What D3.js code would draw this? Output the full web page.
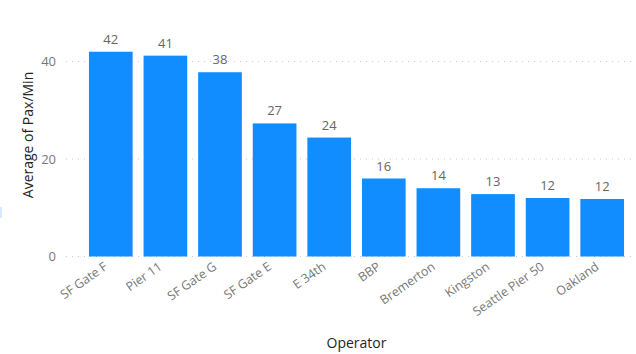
<!DOCTYPE html>
<html><head><meta charset="utf-8">
<script src="https://cdn.jsdelivr.net/npm/d3@7"></script>
<style>
body{margin:0;background:#fff;}
svg{display:block;font-family:"Open Sans","Noto Sans",sans-serif;}
</style></head>
<body><svg id="c" width="636" height="354"></svg>
<script>
const categories = ["SF Gate F","Pier 11","SF Gate G","SF Gate E","E 34th","BBP","Bremerton","Kingston","Seattle Pier 50","Oakland"];
const values = [42.0, 41.2, 37.8, 27.3, 24.4, 16.0, 14.0, 12.8, 12.0, 11.8];
const yTicks = [0, 20, 40];
const yTitle = "Average of Pax/Min";
const xTitle = "Operator";

const svg = d3.select("#c");
const x = d3.scaleBand().domain(categories).range([83.5, 629.5]).paddingInner(0.2).paddingOuter(0.1);
const y = d3.scaleLinear().domain([0, 40]).range([256.5, 61.5]);

// gridlines
svg.append("g").selectAll("line").data(yTicks).join("line")
  .attr("x1", 66).attr("x2", 636)
  .attr("y1", d => y(d)).attr("y2", d => y(d))
  .attr("stroke", "#c8c8c8").attr("stroke-width", 1)
  .attr("stroke-dasharray", "1,5");

// y axis tick labels
svg.append("g").selectAll("text").data(yTicks).join("text")
  .attr("x", 56).attr("y", d => y(d)).attr("dy", "0.35em")
  .attr("text-anchor", "end").attr("font-size", 13).attr("fill", "#777")
  .text(d => d);

// bars
svg.append("g").selectAll("rect").data(values).join("rect")
  .attr("x", (d, i) => x(categories[i]))
  .attr("width", x.bandwidth())
  .attr("y", d => y(d))
  .attr("height", d => y(0) - y(d))
  .attr("fill", "#118DFF");

// value labels
svg.append("g").selectAll("text").data(values).join("text")
  .attr("x", (d, i) => x(categories[i]) + x.bandwidth() / 2)
  .attr("y", d => y(d) - 8)
  .attr("text-anchor", "middle").attr("font-size", 13).attr("fill", "#666")
  .text(d => Math.round(d));

// x labels
svg.append("g").selectAll("text").data(categories).join("text")
  .attr("transform", d => `translate(${x(d) + x.bandwidth() / 2 - 5},${265}) rotate(-35)`)
  .attr("text-anchor", "end").attr("dy", "0.35em")
  .attr("font-size", 12.5).attr("fill", "#777")
  .text(d => d);

// axis titles
svg.append("text")
  .attr("transform", `translate(${33},${135}) rotate(-90)`)
  .attr("text-anchor", "middle").attr("font-size", 14).attr("fill", "#252423")
  .text(yTitle);
svg.append("text")
  .attr("x", 356.5).attr("y", 348)
  .attr("text-anchor", "middle").attr("font-size", 14).attr("fill", "#252423")
  .text(xTitle);

// small edge artifact
svg.append("rect").attr("x", 0).attr("y", 207).attr("width", 2).attr("height", 11).attr("fill", "#d6e8fa");
</script></body></html>
